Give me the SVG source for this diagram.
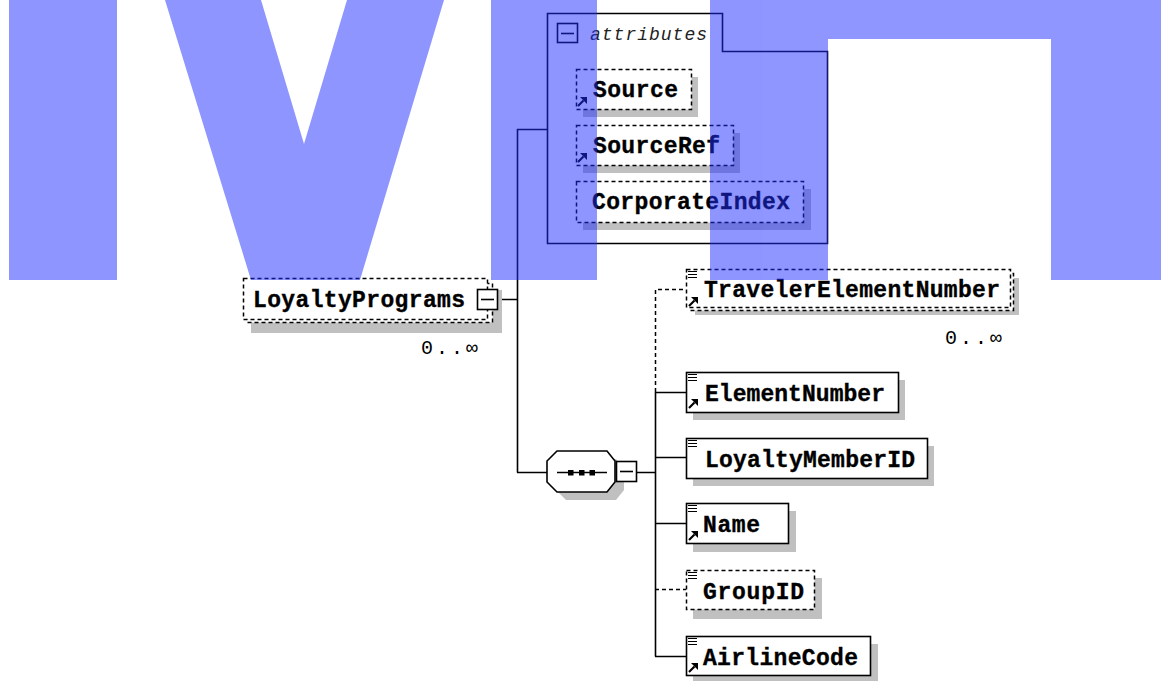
<svg xmlns="http://www.w3.org/2000/svg" width="1161" height="681" viewBox="0 0 1161 681">
<defs>
<style>
.sh{fill:#c0c0c0}
.bx{fill:#fff;stroke:#000;stroke-width:1.6}
.dbx{fill:#fff;stroke:#000;stroke-width:1.5;stroke-dasharray:4 3}
.ln{fill:none;stroke:#000;stroke-width:1.6}
.dln{fill:none;stroke:#000;stroke-width:1.5;stroke-dasharray:4 3}
.t{font-family:"Liberation Mono","DejaVu Sans Mono",monospace;font-weight:bold;font-size:23px;fill:#000;stroke:#000;stroke-width:0.35}
.occ{font-family:"Liberation Mono","DejaVu Sans Mono",monospace;font-size:20px;fill:#000}
.att{font-family:"Liberation Mono","DejaVu Sans Mono",monospace;font-style:italic;font-size:18px;fill:#222}
.wm{fill:#1f2dff;opacity:0.5}
</style>
<g id="ref-icon"><path d="M1,10 L6.5,4.5" stroke="#000" stroke-width="2.2"/><path d="M3,1 L10,1 L10,8 Z" fill="#000"/></g>
<g id="doc-icon"><path d="M0,1.5H9M0,4.5H9M0,7.5H9" stroke="#000" stroke-width="1.2"/></g>
</defs>
<rect width="1161" height="681" fill="#fff"/>

<g id="connectors">
<path class="ln" d="M498,299.5H517.5 M517.5,129V472.5 M517,129.5H547 M517,472.5H547 M637,472.5H655.5 M655.5,392V656.5 M655,392.5H686 M655,457.5H686 M655,523.5H686 M655,656.5H686"/>
<path class="dln" d="M655.5,392V289.5H686 M655,589.5H686"/>
</g>

<g id="node-attributes">
<path class="bx" d="M547.5,13.5H722.5V51.5H827.5V243.5H547.5Z"/>
<rect class="bx" x="557.5" y="23.5" width="20" height="19"/>
<path class="ln" d="M561,33.5H574"/>
<text class="att" x="590" y="40" textLength="117" lengthAdjust="spacing">attributes</text>
</g>

<g id="node-Source">
<rect class="sh" x="583" y="77" width="115" height="40"/>
<rect class="dbx" x="576.5" y="69.5" width="115" height="40"/>
<use href="#ref-icon" x="577" y="96"/>
<text class="t" x="593" y="97" textLength="85" lengthAdjust="spacing">Source</text>
</g>

<g id="node-SourceRef">
<rect class="sh" x="583" y="133" width="157" height="40"/>
<rect class="dbx" x="576.5" y="125.5" width="157" height="40"/>
<use href="#ref-icon" x="577" y="152"/>
<text class="t" x="593" y="153" textLength="127" lengthAdjust="spacing">SourceRef</text>
</g>

<g id="node-CorporateIndex">
<rect class="sh" x="583" y="189" width="228" height="41"/>
<rect class="dbx" x="576.5" y="181.5" width="227" height="41"/>
<text class="t" x="592" y="209" textLength="198" lengthAdjust="spacing">CorporateIndex</text>
</g>

<g id="node-LoyaltyPrograms">
<rect class="sh" x="251" y="290" width="251" height="43"/>
<rect class="dbx" x="247.5" y="283.5" width="245" height="39"/>
<rect class="dbx" x="243.5" y="278.5" width="244" height="41"/>
<text class="t" x="253" y="307" textLength="212" lengthAdjust="spacing">LoyaltyPrograms</text>
<rect class="bx" x="477.5" y="289.5" width="20" height="20"/>
<path class="ln" d="M481,299.5H494"/>
<text class="occ" x="421" y="354" textLength="57" lengthAdjust="spacing">0..∞</text>
</g>

<g id="node-sequence">
<polygon class="sh" transform="translate(9,8)" points="557,451 607,451 615,461 615,482 607,492 557,492 547,482 547,461"/>
<polygon class="bx" points="557,451 607,451 615,461 615,482 607,492 557,492 547,482 547,461"/>
<path class="ln" d="M557,472.5H607"/>
<rect x="568" y="470" width="5.5" height="5.5"/>
<rect x="579" y="470" width="5.5" height="5.5"/>
<rect x="589.5" y="470" width="5.5" height="5.5"/>
<rect class="bx" x="616.5" y="461.5" width="20" height="20"/>
<path class="ln" d="M620,471.5H633"/>
</g>

<g id="node-TravelerElementNumber">
<rect class="sh" x="695" y="278" width="324" height="37"/>
<rect class="dbx" x="690.5" y="273.5" width="323" height="37"/>
<rect class="dbx" x="686.5" y="269.5" width="324" height="38"/>
<use href="#doc-icon" x="688" y="270"/>
<use href="#ref-icon" x="688" y="296"/>
<text class="t" x="704" y="297" textLength="296" lengthAdjust="spacing">TravelerElementNumber</text>
<text class="occ" x="945" y="344" textLength="57" lengthAdjust="spacing">0..∞</text>
</g>

<g id="node-ElementNumber">
<rect class="sh" x="693" y="380" width="212" height="40"/>
<rect class="bx" x="686.5" y="372.5" width="212" height="40"/>
<use href="#doc-icon" x="688" y="373"/>
<use href="#ref-icon" x="688" y="398"/>
<text class="t" x="705" y="401" textLength="180" lengthAdjust="spacing">ElementNumber</text>
</g>

<g id="node-LoyaltyMemberID">
<rect class="sh" x="693" y="446" width="241" height="40"/>
<rect class="bx" x="686.5" y="438.5" width="241" height="40"/>
<use href="#doc-icon" x="688" y="439"/>
<text class="t" x="705" y="467" textLength="210" lengthAdjust="spacing">LoyaltyMemberID</text>
</g>

<g id="node-Name">
<rect class="sh" x="693" y="511" width="103" height="41"/>
<rect class="bx" x="686.5" y="503.5" width="102" height="40"/>
<use href="#doc-icon" x="688" y="504"/>
<use href="#ref-icon" x="688" y="530"/>
<text class="t" x="703" y="532" textLength="57" lengthAdjust="spacing">Name</text>
</g>

<g id="node-GroupID">
<rect class="sh" x="693" y="578" width="129" height="41"/>
<rect class="dbx" x="686.5" y="570.5" width="128" height="39"/>
<use href="#doc-icon" x="688" y="571"/>
<text class="t" x="703" y="599" textLength="101" lengthAdjust="spacing">GroupID</text>
</g>

<g id="node-AirlineCode">
<rect class="sh" x="693" y="644" width="185" height="37"/>
<rect class="bx" x="686.5" y="636.5" width="184" height="39"/>
<use href="#doc-icon" x="688" y="637"/>
<use href="#ref-icon" x="688" y="662"/>
<text class="t" x="703" y="665" textLength="155" lengthAdjust="spacing">AirlineCode</text>
</g>

<g id="watermark" class="wm">
<rect x="9" y="0" width="108" height="280"/>
<polygon points="165,0 261,0 304,144 347,0 444,0 360,280 251,280"/>
<rect x="491" y="0" width="106" height="280"/>
<path d="M710,0H1161V280H1051V39H828V280H710Z"/>
</g>
</svg>
